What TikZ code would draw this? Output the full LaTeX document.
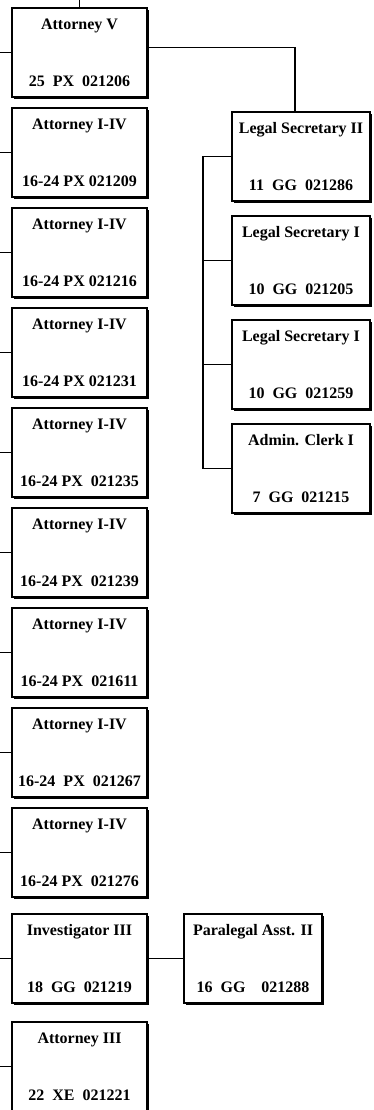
\documentclass[tikz,border=0pt]{standalone}
\usepackage{fontspec}
\setmainfont{Liberation Serif}
\usetikzlibrary{positioning,shadows}
\tikzset{
  posbox/.style={rectangle,draw,line width=1.3pt,fill=white,align=center,
    minimum width=135pt,minimum height=89pt,inner sep=2pt,outer sep=0pt,
    font=\fontsize{16pt}{57pt}\selectfont\bfseries,
    drop shadow={shadow xshift=2pt,shadow yshift=-2pt,fill=black,opacity=1}},
  sidebox/.style={posbox,minimum width=138pt},
  bus/.style={line width=1.8pt}
}
\begin{document}
\begin{tikzpicture}[node distance=11pt]
  \useasboundingbox (0,0) rectangle (374pt,-1110pt);
  \coordinate (edge) at (0,0);
  % left column
  \node[posbox,anchor=north west] (att1) at (12pt,-8pt) {Attorney V\\25\enspace PX\enspace 021206};
  \node[posbox,below=of att1] (att2) {Attorney I-IV\\16-24 PX 021209};
  \node[posbox,below=of att2] (att3) {Attorney I-IV\\16-24 PX 021216};
  \node[posbox,below=of att3] (att4) {Attorney I-IV\\16-24 PX 021231};
  \node[posbox,below=of att4] (att5) {Attorney I-IV\\16-24 PX\enspace 021235};
  \node[posbox,below=of att5] (att6) {Attorney I-IV\\16-24 PX\enspace 021239};
  \node[posbox,below=of att6] (att7) {Attorney I-IV\\16-24 PX\enspace 021611};
  \node[posbox,below=of att7] (att8) {Attorney I-IV\\16-24\enspace PX\enspace 021267};
  \node[posbox,below=of att8] (att9) {Attorney I-IV\\16-24 PX\enspace 021276};
  \node[posbox,below=17pt of att9] (inv) {Investigator III\\18\enspace GG\enspace 021219};
  \node[posbox,below=19pt of inv] (att10) {Attorney III\\22\enspace XE\enspace 021221};
  \node[sidebox,right=37pt of inv] (para) {Paralegal Asst. II\\16\enspace GG\enspace\enspace 021288};
  % right column
  \node[sidebox,anchor=north west] (ls2) at (232pt,-112pt) {Legal Secretary II\\11\enspace GG\enspace 021286};
  \node[sidebox,below=15pt of ls2] (ls1a) {Legal Secretary I\\10\enspace GG\enspace 021205};
  \node[sidebox,below=15pt of ls1a] (ls1b) {Legal Secretary I\\10\enspace GG\enspace 021259};
  \node[sidebox,below=15pt of ls1b] (clerk) {Admin. Clerk I\\7\enspace GG\enspace 021215};
  % connectors
  \draw[bus] (att1.north) -- (att1.north |- edge);
  \draw[bus] (att1.west) -- (att1.west -| edge);
  \draw[bus] (att2.west) -- (att2.west -| edge);
  \draw[bus] (att3.west) -- (att3.west -| edge);
  \draw[bus] (att4.west) -- (att4.west -| edge);
  \draw[bus] (att5.west) -- (att5.west -| edge);
  \draw[bus] (att6.west) -- (att6.west -| edge);
  \draw[bus] (att7.west) -- (att7.west -| edge);
  \draw[bus] (att8.west) -- (att8.west -| edge);
  \draw[bus] (att9.west) -- (att9.west -| edge);
  \draw[bus] (inv.west) -- (inv.west -| edge);
  \draw[bus] (att10.west) -- (att10.west -| edge);
  \draw[bus] ([yshift=5pt]att1.east) -| ([xshift=-6pt]ls2.north);
  \coordinate (rbus) at ([xshift=-29pt]ls2.west);
  \draw[bus] (ls2.west) -- (rbus) |- (clerk.west);
  \draw[bus] (ls1a.west) -- (ls1a.west -| rbus);
  \draw[bus] (ls1b.west) -- (ls1b.west -| rbus);
  \draw[bus] (inv.east) -- (para.west);
\end{tikzpicture}
\end{document}
